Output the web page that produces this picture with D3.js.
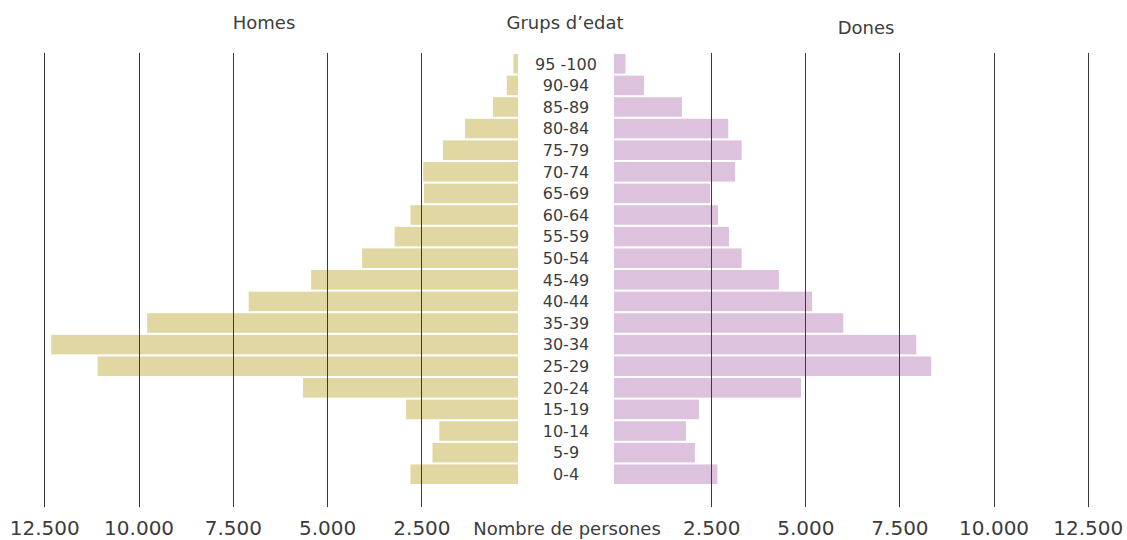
<!DOCTYPE html>
<html>
<head>
<meta charset="utf-8">
<script src="https://cdn.jsdelivr.net/npm/d3@7"></script>
<style>
  body { margin: 0; background: #fff; }
  svg text { font-family: "DejaVu Sans", sans-serif; font-weight: 400; fill: #3c3c3c; }
</style>
</head>
<body>
<svg id="chart" width="1127" height="540"></svg>
<script>
// age groups, top to bottom
var ageGroups = ["95 -100", "90-94", "85-89", "80-84", "75-79", "70-74", "65-69",
  "60-64", "55-59", "50-54", "45-49", "40-44", "35-39", "30-34", "25-29",
  "20-24", "15-19", "10-14", "5-9", "0-4"];

var homes = [60, 236, 604, 1344, 1930, 2452, 2434, 2792, 3210, 4072, 5424,
  7081, 9772, 12317, 11087, 5641, 2906, 2025, 2206, 2792];

var dones = [223, 712, 1722, 2952, 3308, 3133, 2471, 2681, 2971, 3308, 4296,
  5181, 6008, 7947, 8343, 4884, 2173, 1828, 2067, 2662];

var tickValues = [2500, 5000, 7500, 10000, 12500];

var svg = d3.select("#chart");

var catLocale = d3.formatLocale({decimal: ",", thousands: ".", grouping: [3], currency: ["", "€"]});
var fmt = catLocale.format(",");

var gridTop = 53, gridBottom = 507;

var xLeft = d3.scaleLinear().domain([0, 12500]).range([515.7, 44.3]);
var xRight = d3.scaleLinear().domain([0, 12500]).range([617.1, 1087.7]);

var y = d3.scaleBand()
  .domain(ageGroups)
  .range([54, 484])
  .paddingInner(0.095);

var rows = ageGroups.map(function(g, i) {
  return {group: g, homes: homes[i], dones: dones[i]};
});

// bars
svg.selectAll("rect.homes")
  .data(rows)
  .enter()
  .append("rect")
  .attr("class", "homes")
  .attr("x", function(d) { return xLeft(d.homes); })
  .attr("y", function(d) { return y(d.group); })
  .attr("width", function(d) { return xLeft(0) + 2.3 - xLeft(d.homes); })
  .attr("height", y.bandwidth())
  .attr("fill", "#e0d7a2");

svg.selectAll("rect.dones")
  .data(rows)
  .enter()
  .append("rect")
  .attr("class", "dones")
  .attr("x", xRight(0) - 3.1)
  .attr("y", function(d) { return y(d.group); })
  .attr("width", function(d) { return xRight(d.dones) - xRight(0) + 3.1; })
  .attr("height", y.bandwidth())
  .attr("fill", "#dcc2dd");

// grid lines + tick labels (on top of the bars)
function drawAxis(scale, cls) {
  var axis = d3.axisBottom(scale)
    .tickValues(tickValues)
    .tickFormat(fmt)
    .tickSizeInner(-(gridBottom - gridTop))
    .tickSizeOuter(0)
    .tickPadding(14);

  var g = svg.append("g")
    .attr("class", cls)
    .attr("transform", "translate(0," + gridBottom + ")")
    .call(axis);

  g.select(".domain").remove();
  g.selectAll(".tick line")
    .attr("stroke", "#3a3a3a")
    .attr("shape-rendering", "crispEdges");
  g.selectAll(".tick text")
    .attr("font-size", 20)
    .attr("fill", "#3c3c3c")
    .style("font-family", "\"DejaVu Sans\", sans-serif");
}

drawAxis(xLeft, "xLeft");
drawAxis(xRight, "xRight");

// age group labels
svg.selectAll("text.age")
  .data(rows)
  .enter()
  .append("text")
  .attr("class", "age")
  .attr("x", 566)
  .attr("y", function(d) { return y(d.group) + y.bandwidth() / 2; })
  .attr("dy", "0.36em")
  .attr("text-anchor", "middle")
  .attr("font-size", 16)
  .text(function(d) { return d.group; });

// titles
svg.append("text").attr("x", 264).attr("y", 29).attr("text-anchor", "middle")
  .attr("font-size", 18).text("Homes");
svg.append("text").attr("x", 565).attr("y", 29).attr("text-anchor", "middle")
  .attr("font-size", 18).text("Grups d\u2019edat");
svg.append("text").attr("x", 866).attr("y", 34).attr("text-anchor", "middle")
  .attr("font-size", 18).text("Dones");
svg.append("text").attr("x", 567).attr("y", 535).attr("text-anchor", "middle")
  .attr("font-size", 18).text("Nombre de persones");
</script>
</body>
</html>
